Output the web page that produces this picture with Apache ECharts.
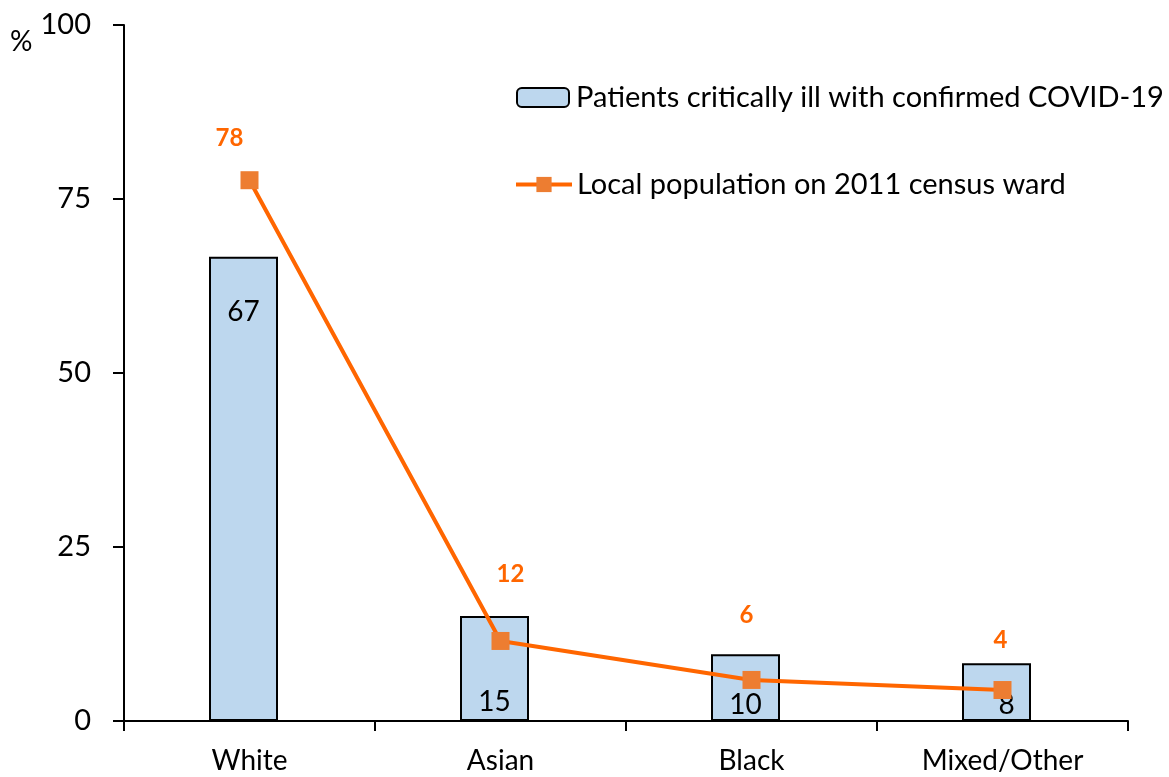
<!DOCTYPE html>
<html>
<head>
<meta charset="utf-8">
<script src="https://cdn.jsdelivr.net/npm/echarts@6/dist/echarts.min.js"></script>
<style>
html,body{margin:0;padding:0;background:#fff;}
#chart{width:1169px;height:777px;}
</style>
</head>
<body>
<div id="chart"></div>
<script>
const categories = ['White', 'Asian', 'Black', 'Mixed/Other'];
const patientsValues = [66.7, 15.1, 9.6, 8.3];
const patientsLabels = ['67', '15', '10', '8'];
const populationValues = [77.7, 11.5, 5.9, 4.45];
const populationLabels = ['78', '12', '6', '4'];
const yTicks = [0, 25, 50, 75, 100];

const seriesNames = ['Patients critically ill with confirmed COVID-19', 'Local population on 2011 census ward'];
const FONT = 'Lato, "Liberation Sans", sans-serif';

// per-point label placement (style only)
const barLabelStyles = [
  { position: 'insideTop', distance: 41, offset: [0, 0] },
  { position: 'insideBottom', distance: 5, offset: [0, 0] },
  { position: 'insideBottom', distance: 2, offset: [0, 0] },
  { position: 'insideBottom', distance: 2, offset: [10, 0] }
];
const lineLabelOffsets = [[-20, -42], [10, -67], [-5, -65], [-2, -50]];

const chart = echarts.init(document.getElementById('chart'));

const gridTop = 25, gridBottom = 56;

chart.setOption({
  animation: false,
  textStyle: { fontFamily: FONT },
  grid: [
    { left: 124, right: 41, top: gridTop, bottom: gridBottom },
    { left: 118, right: 47, top: gridTop, bottom: gridBottom }
  ],
  legend: [
    {
      data: [seriesNames[0]],
      left: 516, top: 83, padding: 0,
      itemWidth: 52, itemHeight: 19, itemGap: 0,
      textStyle: { fontSize: 29, color: '#000', fontFamily: FONT, padding: [0, 0, 0, 2] }
    },
    {
      data: [seriesNames[1]],
      left: 514, top: 170, padding: 0,
      itemWidth: 56, itemHeight: 19, itemGap: 0,
      lineStyle: { width: 4, color: '#FF6600' },
      textStyle: { fontSize: 29, color: '#000', fontFamily: FONT, padding: [0, 0, 0, 0] }
    }
  ],
  graphic: [
    { type: 'text', left: 10, top: 28, style: { text: '%', fontSize: 28, fill: '#000', fontFamily: FONT } }
  ],
  xAxis: [
    {
      type: 'category', gridIndex: 0, data: categories,
      axisLine: { lineStyle: { color: '#000', width: 2 } },
      axisTick: { show: true, length: 10, lineStyle: { color: '#000', width: 2 } },
      axisLabel: { fontSize: 28, color: '#000', margin: 26, fontFamily: FONT }
    },
    {
      type: 'category', gridIndex: 1, data: categories, show: false
    }
  ],
  yAxis: [
    {
      type: 'value', gridIndex: 0, min: 0, max: 100, interval: 25,
      axisLine: { show: true, lineStyle: { color: '#000', width: 2 } },
      axisTick: { show: true, length: 11, lineStyle: { color: '#000', width: 2 } },
      splitLine: { show: false },
      axisLabel: {
        fontSize: 29, color: '#000', margin: 33, fontFamily: FONT,
        formatter: v => yTicks.includes(v) ? String(v) : ''
      }
    },
    {
      type: 'value', gridIndex: 1, min: 0, max: 100, interval: 25, show: false
    }
  ],
  series: [
    {
      name: seriesNames[0],
      type: 'bar',
      xAxisIndex: 1, yAxisIndex: 1,
      barWidth: 69,
      z: 2,
      itemStyle: { color: '#BDD7EE', borderColor: '#000', borderWidth: 2 },
      data: patientsValues.map((v, i) => ({
        value: v,
        label: {
          show: true,
          position: barLabelStyles[i].position,
          distance: barLabelStyles[i].distance,
          offset: barLabelStyles[i].offset,
          formatter: patientsLabels[i],
          fontSize: 28, color: '#000', fontFamily: FONT
        }
      }))
    },
    {
      name: seriesNames[1],
      type: 'line',
      xAxisIndex: 0, yAxisIndex: 0,
      symbol: 'rect', symbolSize: 18,
      lineStyle: { color: '#FF6600', width: 4 },
      itemStyle: { color: '#ED7D31' },
      z: 5,
      data: populationValues.map((v, i) => ({
        value: v,
        label: {
          show: true,
          position: 'inside',
          offset: lineLabelOffsets[i],
          formatter: populationLabels[i],
          fontSize: 24, fontWeight: 'bold', color: '#FF6600', fontFamily: FONT
        }
      }))
    }
  ]
});
</script>
</body>
</html>
